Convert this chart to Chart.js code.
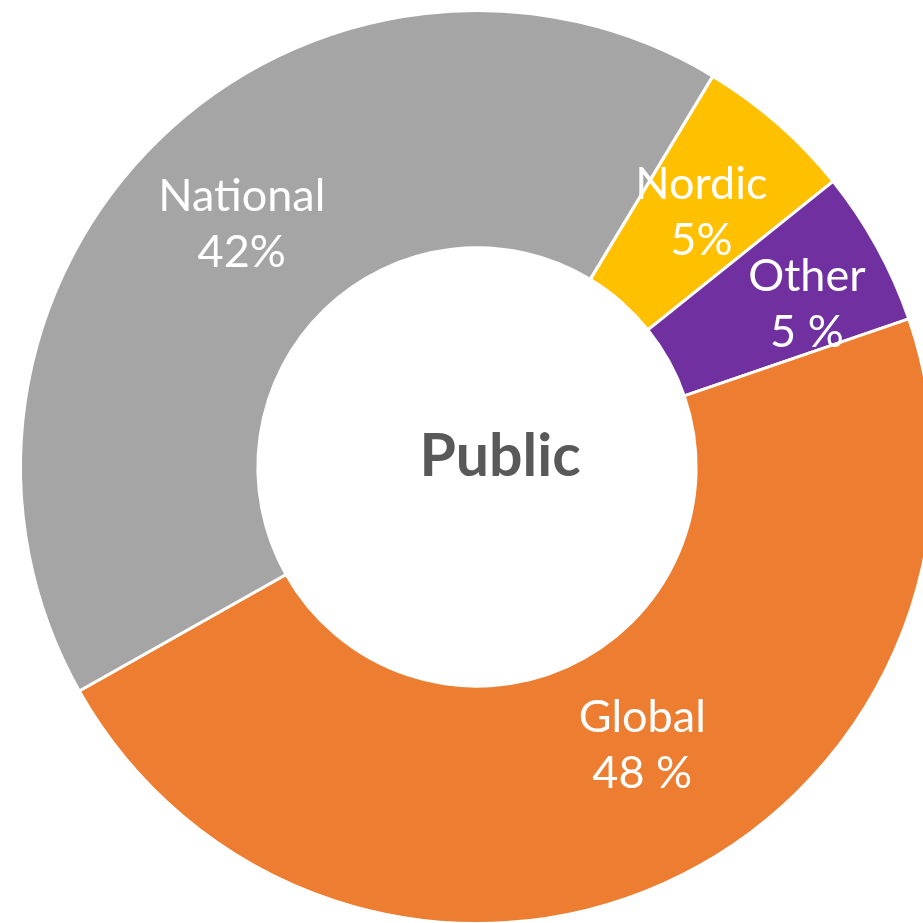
<!DOCTYPE html>
<html>
<head>
<meta charset="utf-8">
<script src="https://cdn.jsdelivr.net/npm/chart.js@4"></script>
<style>
  html, body { margin: 0; padding: 0; background: #fff; overflow: hidden; }
  #wrap { position: absolute; left: 0; top: 0; width: 954px; height: 934px; }
</style>
</head>
<body>
<div id="wrap"><canvas id="donut"></canvas></div>
<script>
// slices, clockwise from the National/Nordic border
const categories = ['Nordic', 'Other', 'Global', 'National'];
const shares = [5.6, 5.5, 47.1, 41.8];
const shareLabels = ['5%', '5 %', '48 %', '42%'];
const colors = ['#FFC000', '#7030A0', '#ED7D31', '#A5A5A5'];
const centerTitle = 'Public';

// draws the name + percent in each slice and the title in the hole
const sliceLabels = {
  id: 'sliceLabels',
  afterDatasetsDraw(chart, args, opts) {
    const ctx = chart.ctx;
    const meta = chart.getDatasetMeta(0);
    ctx.save();
    ctx.fillStyle = '#fff';
    ctx.textAlign = 'center';
    ctx.textBaseline = 'middle';
    ctx.font = '45px Lato';
    meta.data.forEach((arc, i) => {
      const p = arc.getProps(['x', 'y', 'startAngle', 'endAngle', 'innerRadius', 'outerRadius'], true);
      const mid = (p.startAngle + p.endAngle) / 2;
      const r = (p.innerRadius + p.outerRadius) / 2;
      const nudge = opts.nudge[i] || [0, 0];
      const x = p.x + Math.cos(mid) * r + nudge[0];
      const y = p.y + Math.sin(mid) * r + nudge[1];
      ctx.fillText(categories[i], x, y - 28);
      ctx.fillText(shareLabels[i], x, y + 28);
    });
    const c = meta.data[0];
    ctx.fillStyle = '#595959';
    ctx.font = 'bold 59px Lato';
    ctx.fillText(centerTitle, c.x + 23, c.y - 10);
    ctx.restore();
  }
};

new Chart(document.getElementById('donut').getContext('2d'), {
  type: 'doughnut',
  data: {
    labels: categories,
    datasets: [{
      data: shares,
      backgroundColor: colors,
      borderColor: '#fff',
      borderWidth: 3
    }]
  },
  options: {
    responsive: true,
    maintainAspectRatio: false,
    animation: false,
    rotation: 31.1,
    cutout: '48%',
    layout: { padding: 9 },
    plugins: {
      legend: { display: false },
      tooltip: { enabled: false },
      sliceLabels: { nudge: [[2, 0], [34, 0], [27, -30], [0, 0]] }
    }
  },
  plugins: [sliceLabels]
});
</script>
</body>
</html>
